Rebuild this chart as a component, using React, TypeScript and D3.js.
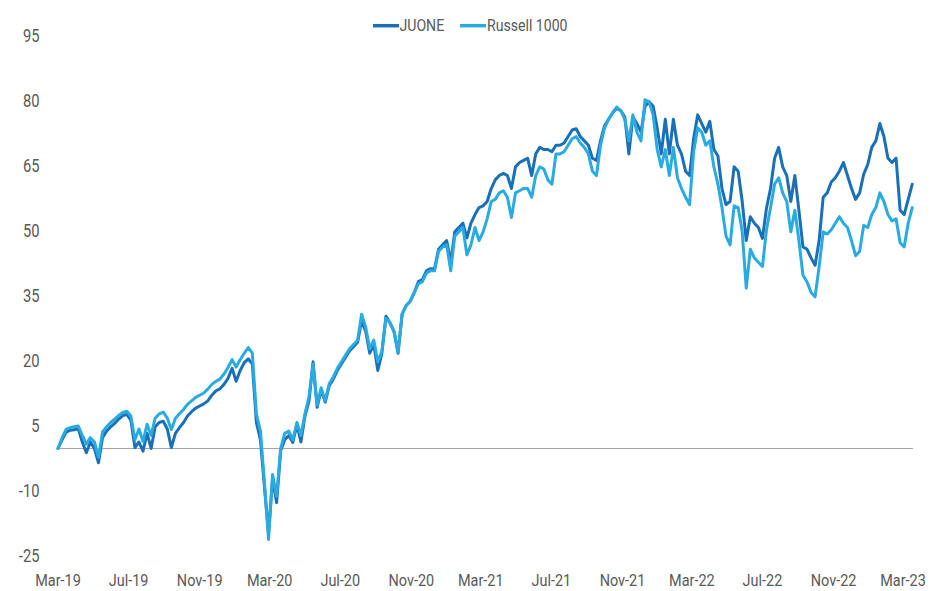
import React from "react";
import * as d3 from "d3";

const startDate = "2019-03-22";
const weekCount = 212;

const juone: number[] = [
  0, 2, 3.8, 4.2, 4.3, 4.6, 1.5, -1, 1.5, 0,
  -3.3, 2.5, 4, 5, 5.8, 6.8, 7.6, 7.9, 6.5, 0.2,
  1.5, -0.6, 3.5, 0, 5, 6, 6.3, 4.5, 0.2, 3.5,
  4.8, 6, 7.5, 8.5, 9.3, 9.8, 10.3, 11, 12.3, 13.3,
  13.8, 14.8, 16.2, 18.5, 15.5, 18, 19.8, 20.7, 19.5, 6,
  2, -9, -19.5, -7, -12.5, -0.5, 2, 3, 1.4, 5.5,
  1.5, 7.5, 11, 20, 9.5, 13.5, 10.7, 14.5, 16, 18,
  19.5, 21, 22.5, 23.5, 24.5, 29.5, 27, 22, 24, 18,
  22, 30.5, 29, 27, 22, 31, 33, 34, 36, 38.5,
  39, 41, 41.5, 41.5, 46, 47, 48, 43, 50, 51,
  52, 48.6, 52, 54, 55.6, 56, 57, 60, 62, 63,
  63.5, 63, 60, 65, 66, 66.5, 67, 63, 68, 69.5,
  69, 69, 68.5, 70, 70, 70.5, 72, 73.5, 73.8, 72,
  71, 70, 67, 66.5, 71, 74.5, 76, 77.5, 78.5, 78,
  76.5, 68, 76.5, 75, 73, 79, 80, 79, 74, 68,
  76, 68, 76, 70, 68, 64, 63, 71.5, 77, 75,
  73, 75.5, 69, 67.5, 60, 56.3, 57, 65, 64, 57,
  48, 53.5, 52, 51, 48.5, 55.5, 60, 67, 69.5, 65,
  63, 57, 63, 55, 46.5, 46, 44, 42.3, 48, 58,
  59, 61.5, 62.5, 64, 66, 63, 60, 57.5, 59, 63.3,
  65.5, 69.5, 71, 75, 72, 67, 66, 67, 55, 54,
  57.5, 61,
];

const russell: number[] = [
  0, 2.5, 4.4, 4.8, 5, 5.2, 3, 1, 2.5, 1.5,
  -2, 3.8, 5, 6, 6.8, 7.6, 8.3, 8.6, 7.5, 2,
  4.5, 1.6, 5.6, 3, 7, 8, 8.4, 7, 4.4, 7,
  8, 9, 10.2, 11, 11.8, 12.3, 12.8, 13.7, 14.8, 15.5,
  16, 17.2, 18.7, 20.5, 18.8, 20.5, 22, 23.3, 22, 8,
  4, -8, -21, -6, -11, 0, 3.5, 4, 2, 6,
  3, 8, 12, 19.5, 10, 14, 11, 15, 16.5, 18.5,
  20, 21.5, 23, 24, 25, 31, 28, 23, 25, 20,
  22.5, 30, 29, 27, 22.3, 31, 33, 34, 36, 38,
  38.5, 40.5, 41, 41, 45.5, 46.5, 47, 41, 49, 50,
  51, 44.7, 47, 51, 48, 50, 53, 57, 57.5, 59,
  59.5, 58, 53.3, 59, 59.5, 60, 60, 58, 63, 65,
  64.5, 62, 61, 68, 68, 68.5, 70, 71.5, 72, 70.5,
  69.5, 68, 64, 63, 70, 74, 76, 77.5, 78.8, 78,
  76, 71, 77, 73, 71, 80.5, 80, 77, 69, 65,
  69, 63, 69.5, 62.5, 60, 58, 56.3, 68.5, 74, 73,
  70, 71, 65, 61, 55.6, 49, 47, 56, 55.6, 50,
  37, 46, 44, 43, 42, 50.5, 55.6, 61, 62.5, 59,
  57, 50, 55, 48, 40, 38.5, 36, 35, 42, 50,
  49.5, 50.5, 52, 53.5, 52, 51, 48, 44.5, 45.5, 51.5,
  51, 54, 55.6, 59, 57, 54, 52.5, 53, 47.5, 46.5,
  52, 55.6,
];

const yTicks: number[] = [95, 80, 65, 50, 35, 20, 5, -10, -25];
const xTickCount = 13;
const seriesNames: string[] = ["JUONE", "Russell 1000"];
const seriesColors: string[] = ["#1a70b8", "#29abe2"];

const W = 935;
const H = 591;
const FONT = "Roboto, 'Noto Sans', sans-serif";
const TEXT = "#595959";

function Label(props: {
  x: number;
  y: number;
  anchor?: "start" | "middle" | "end";
  size: number;
  squeeze: number;
  children: React.ReactNode;
}) {
  const { x, y, anchor = "start", size, squeeze, children } = props;
  return (
    <text
      transform={`translate(${x},${y}) scale(${squeeze},1)`}
      textAnchor={anchor}
      dominantBaseline="central"
      fontSize={size}
      fill={TEXT}
    >
      {children}
    </text>
  );
}

export default function App() {
  const start = new Date(startDate + "T00:00:00");
  const dates: Date[] = d3.range(weekCount).map((i) => d3.timeDay.offset(start, i * 7));
  const end = d3.timeMonth.offset(start, 48);

  const x = d3.scaleTime().domain([start, end]).range([58, 903]);
  const y = d3.scaleLinear().domain([-25, 95]).range([556.8, 36.9]);

  const tickDates: Date[] = d3.range(xTickCount).map((i) => d3.timeMonth.offset(start, i * 4));
  const fmt = d3.timeFormat("%b-%y");

  const line = d3
    .line<number>()
    .x((_, i) => x(dates[i]))
    .y((d) => y(d));

  const series = [juone, russell];

  return (
    <svg
      width={W}
      height={H}
      style={{ position: "absolute", left: 0, top: 0, background: "#fff" }}
      fontFamily={FONT}
    >
      <rect x={0} y={0} width={W} height={H} fill="#fff" />
      {yTicks.map((t) => (
        <Label key={t} x={39.5} y={y(t) - 1.2} anchor="end" size={18} squeeze={0.82}>
          {t}
        </Label>
      ))}
      <line x1={58} x2={913} y1={y(0)} y2={y(0)} stroke="#a6a6a6" strokeWidth={1.2} />
      {tickDates.map((d, i) => (
        <Label key={i} x={x(d)} y={580.5} anchor="middle" size={17} squeeze={0.85}>
          {fmt(d)}
        </Label>
      ))}
      {series.map((s, k) => (
        <path
          key={k}
          d={line(s) || ""}
          fill="none"
          stroke={seriesColors[k]}
          strokeWidth={3}
          strokeLinejoin="round"
          strokeLinecap="round"
        />
      ))}
      <g>
        <line x1={373} x2={399} y1={25.7} y2={25.7} stroke={seriesColors[0]} strokeWidth={3.5} />
        <Label x={399.5} y={25.5} size={17} squeeze={0.83}>
          {seriesNames[0]}
        </Label>
        <line x1={460} x2={486} y1={25.7} y2={25.7} stroke={seriesColors[1]} strokeWidth={3.5} />
        <Label x={487} y={25.5} size={17} squeeze={0.83}>
          {seriesNames[1]}
        </Label>
      </g>
    </svg>
  );
}
